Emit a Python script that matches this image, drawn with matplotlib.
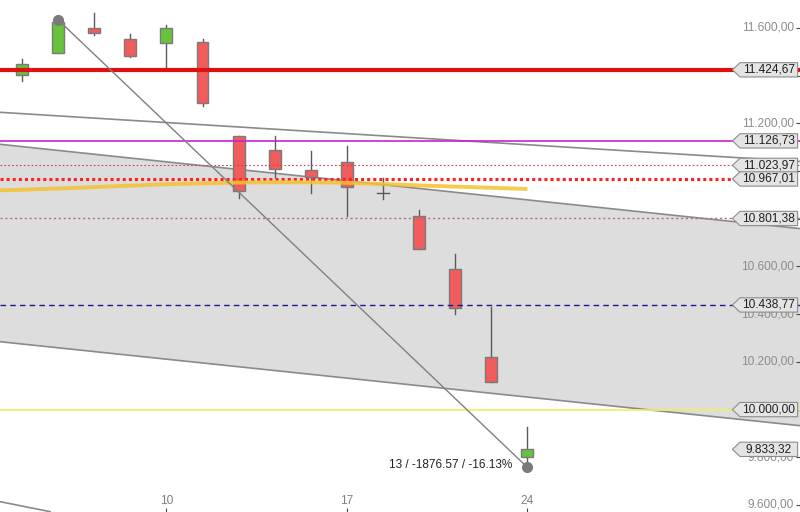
import numpy as np
import matplotlib
matplotlib.use("Agg")
import matplotlib.pyplot as plt
from matplotlib.patches import Polygon, Rectangle

plt.rcParams['font.family'] = ['Liberation Sans', 'DejaVu Sans']

# candles (trading-day index)
opens  = [11402, 11496, 11599, 11553, 11536, 11540, 11147, 11088, 11003, 11037, 10909, 10812, 10588, 10222, 9800]
highs  = [11469, 11634, 11664, 11575, 11613, 11553, 11147, 11147, 11086, 11105, 10970, 10837, 10651, 10431, 9928]
lows   = [11378, 11496, 11571, 11480, 11424, 11273, 10888, 10976, 10909, 10813, 10882, 10673, 10400, 10117, 9758]
closes = [11448, 11626, 11578, 11484, 11599, 11284, 10918, 11007, 10977, 10933, 10909, 10673, 10425, 10117, 9833.32]

day_ticks = [4, 9, 14]
day_labels = ["10", "17", "24"]

# moving average (orange)
ma_x = list(range(-1, 15))
ma_y = [10918, 10922, 10927, 10933, 10939, 10945, 10949, 10952, 10953, 10953,
        10951, 10946, 10940, 10935, 10930, 10925]

# trend channel endpoints
chan_x = [-0.61, 21.55]
chan_top = [11246.5, 11040.3]
band_top = [11112.4, 10758.9]
band_bot = [10284.7, 9932.5]
extra_x = [-0.61, 0.78]
extra_y = [9614, 9572]

# horizontal levels
levels = [11424.67, 11126.73, 11023.97, 10967.01, 10801.38, 10438.77, 10000.00]
level_styles = [
    dict(color="#e01010", lw=3.0, ls="-"),
    dict(color="#cc22cc", lw=1.2, ls="-"),
    dict(color="#c04848", lw=0.8, ls=(0, (1.5, 2))),
    dict(color="#ff2020", lw=2.2, ls=(0, (1, 1))),
    dict(color="#b07070", lw=1.0, ls=(0, (1.5, 2))),
    dict(color="#1a1a8a", lw=1.0, ls=(0, (4, 3))),
    dict(color="#f0f060", lw=1.2, ls="-"),
]
last_price = 9833.32

# measurement line
meas_x = [1, 14]
meas_y = [11634.2, 9757.6]
meas_text = "13 / -1876.57 / -16.13%"

yticks = list(range(9600, 11601, 200))


def de_fmt(v):
    s = f"{v:,.2f}"
    return s.replace(",", "X").replace(".", ",").replace("X", ".")


fig = plt.figure(figsize=(8, 5.12), dpi=100)
ax = fig.add_axes([0, 0, 1, 1])
ax.set_xlim(-0.609, 21.55)
ax.set_ylim(9570.6, 11717.4)
for sp in ax.spines.values():
    sp.set_visible(False)

# channel
ax.fill_between(chan_x, band_top, band_bot, color="#dddddd", zorder=1, lw=0)
for yy in (chan_top, band_top, band_bot):
    ax.plot(chan_x, yy, color="#8a8a8a", lw=1.2, zorder=2)
ax.plot(extra_x, extra_y, color="#8a8a8a", lw=1.2, zorder=2)

# candles
w = 0.33
for i, (o, h, l, c) in enumerate(zip(opens, highs, lows, closes)):
    ax.plot([i, i], [l, h], color="#5a5a5a", lw=1, zorder=2.5)
    if abs(c - o) < 1:
        ax.plot([i - w / 2, i + w / 2], [o, o], color="#5a5a5a", lw=1, zorder=2.6)
        continue
    col = "#66c33a" if c > o else "#f25c5c"
    ax.add_patch(Rectangle((i - w / 2, min(o, c)), w, abs(c - o), facecolor=col,
                           edgecolor="#7a7a7a", lw=1, zorder=2.6))

# levels
for v, st in zip(levels, level_styles):
    ax.axhline(v, zorder=3, **st)

ax.plot(ma_x, ma_y, color="#f5c030", lw=2.8, alpha=0.85, zorder=3.5, solid_capstyle="butt")

# measurement
ax.plot(meas_x, meas_y, color="#808080", lw=1, zorder=4)
ax.plot(meas_x, meas_y, "o", color="#7a7a7a", ms=7, zorder=6)
ax.annotate(meas_text, (meas_x[1], meas_y[1]), xytext=(-11, 2), textcoords="offset points",
            ha="right", va="center", fontsize=8.5, color="#222222", zorder=7)

# axes ticks
ax.set_xticks(day_ticks)
ax.set_xticklabels(day_labels)
ax.tick_params(axis="x", direction="in", length=3, pad=-12.5, labelsize=8.6,
               labelcolor="#808080", color="#444444")
ax.yaxis.tick_right()
ax.set_yticks(yticks)
ax.tick_params(axis="y", direction="in", length=3, color="#444444", labelright=False)
ytr = ax.get_yaxis_transform()
tags = levels + [last_price]
for v in yticks:
    # labels fully covered by a price tag are not drawn
    if min(abs(v - t) for t in tags) < 30:
        continue
    ax.text(0.992, v, de_fmt(v), transform=ytr, ha="right", va="center",
            fontsize=8.6, color="#8c8c8c", zorder=7)

# price tags
hh = 30
for v in tags:
    pts = [(0.9155, v), (0.925, v + hh), (0.997, v + hh), (0.997, v - hh), (0.925, v - hh)]
    ax.add_patch(Polygon(pts, closed=True, transform=ytr, facecolor="#e4e4e4",
                         edgecolor="#8c8c8c", lw=0.8, zorder=8))
    ax.text(0.961, v, de_fmt(v), transform=ytr, ha="center", va="center",
            fontsize=8.6, color="#202020", zorder=9)

fig.savefig("out.png", dpi=100)
